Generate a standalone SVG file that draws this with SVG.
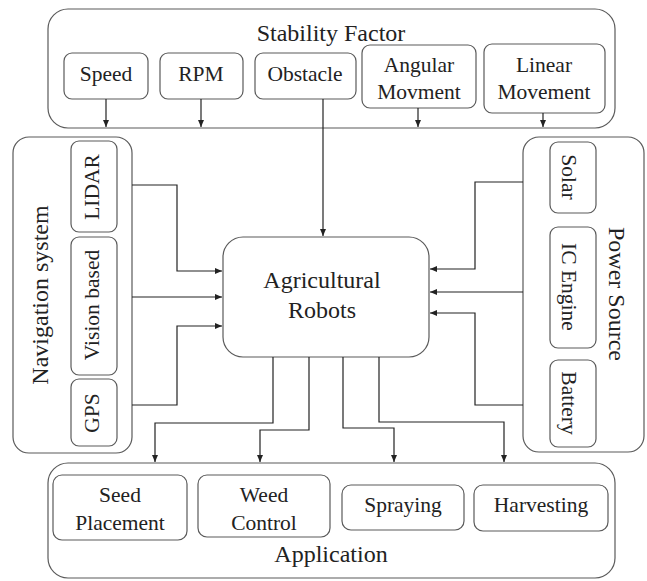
<svg xmlns="http://www.w3.org/2000/svg" width="647" height="581" viewBox="0 0 647 581">
<defs>
<marker id="ah" markerUnits="userSpaceOnUse" markerWidth="8" markerHeight="8" refX="7" refY="4" orient="auto">
<path d="M0,1 L7,4 L0,7 Z" fill="#222"/>
</marker>
</defs>
<rect width="647" height="581" fill="#fff"/>

<g fill="#fff" stroke="#5a5a5a" stroke-width="1.2">
<g id="stability"><rect x="48" y="9" width="567" height="119" rx="20"/></g>
<g id="speed"><rect x="64" y="53" width="84" height="46" rx="8"/></g>
<g id="rpm"><rect x="160" y="53" width="83" height="46" rx="8"/></g>
<g id="obstacle"><rect x="255" y="53" width="101" height="46" rx="8"/></g>
<g id="angular"><rect x="362" y="45" width="114" height="63" rx="8"/></g>
<g id="linear"><rect x="484" y="44" width="121" height="69" rx="8"/></g>
<g id="navigation"><rect x="13" y="137" width="119" height="316" rx="16"/></g>
<g id="lidar"><rect x="71" y="141" width="46" height="91" rx="8"/></g>
<g id="vision"><rect x="71" y="237" width="46" height="138" rx="8"/></g>
<g id="gps"><rect x="71" y="379" width="46" height="67" rx="8"/></g>
<g id="power"><rect x="523" y="137" width="121" height="315" rx="16"/></g>
<g id="solar"><rect x="550" y="142" width="46" height="71" rx="8"/></g>
<g id="icengine"><rect x="550" y="227" width="46" height="121" rx="8"/></g>
<g id="battery"><rect x="550" y="360" width="46" height="87" rx="8"/></g>
<g id="robots"><rect x="223" y="237" width="206" height="120" rx="20"/></g>
<g id="application"><rect x="48" y="463" width="567" height="115" rx="20"/></g>
<g id="seed"><rect x="53" y="475" width="134" height="65" rx="9"/></g>
<g id="weed"><rect x="198" y="475" width="132" height="62" rx="9"/></g>
<g id="spraying"><rect x="342" y="485" width="122" height="45" rx="9"/></g>
<g id="harvesting"><rect x="474" y="485" width="134" height="46" rx="9"/></g>
</g>

<g id="labels" font-family="Liberation Serif" fill="#222" text-anchor="middle" font-size="21.5">
<text font-size="24" x="331" y="41">Stability Factor</text>
<text x="106" y="81">Speed</text>
<text x="201" y="81">RPM</text>
<text x="305" y="81">Obstacle</text>
<text x="419" y="72">Angular</text>
<text x="419" y="99">Movment</text>
<text x="544" y="72">Linear</text>
<text x="544" y="99">Movement</text>
<text font-size="24" transform="translate(48,295) rotate(-90)">Navigation system</text>
<text transform="translate(99,187) rotate(-90)">LIDAR</text>
<text transform="translate(99,305) rotate(-90)">Vision based</text>
<text transform="translate(99,413) rotate(-90)">GPS</text>
<text font-size="24" transform="translate(609,294) rotate(90)">Power Source</text>
<text transform="translate(562,177) rotate(90)">Solar</text>
<text transform="translate(562,287) rotate(90)">IC Engine</text>
<text transform="translate(562,403) rotate(90)">Battery</text>
<text font-size="24" x="322" y="288">Agricultural</text>
<text font-size="24" x="322" y="318">Robots</text>
<text font-size="24" x="331" y="562">Application</text>
<text x="120" y="502">Seed</text>
<text x="120" y="530">Placement</text>
<text x="264" y="502">Weed</text>
<text x="264" y="530">Control</text>
<text x="403" y="512">Spraying</text>
<text x="541" y="512">Harvesting</text>
</g>

<g id="connectors" fill="none" stroke="#222" stroke-width="1.2" marker-end="url(#ah)">
<path d="M106,99 V127"/>
<path d="M201,99 V127"/>
<path d="M323,99 V236"/>
<path d="M418,108 V127"/>
<path d="M543,113 V127"/>
<path d="M132,185 H177 V271 H222"/>
<path d="M132,297 H222"/>
<path d="M132,405 H177 V326 H222"/>
<path d="M523,182 H475 V269 H430"/>
<path d="M523,292 H430"/>
<path d="M523,405 H475 V313 H430"/>
<path d="M273,357 V423 H155 V462"/>
<path d="M309,357 V430 H260 V462"/>
<path d="M343,357 V428 H394 V462"/>
<path d="M379,357 V422 H504 V462"/>
</g>
</svg>
